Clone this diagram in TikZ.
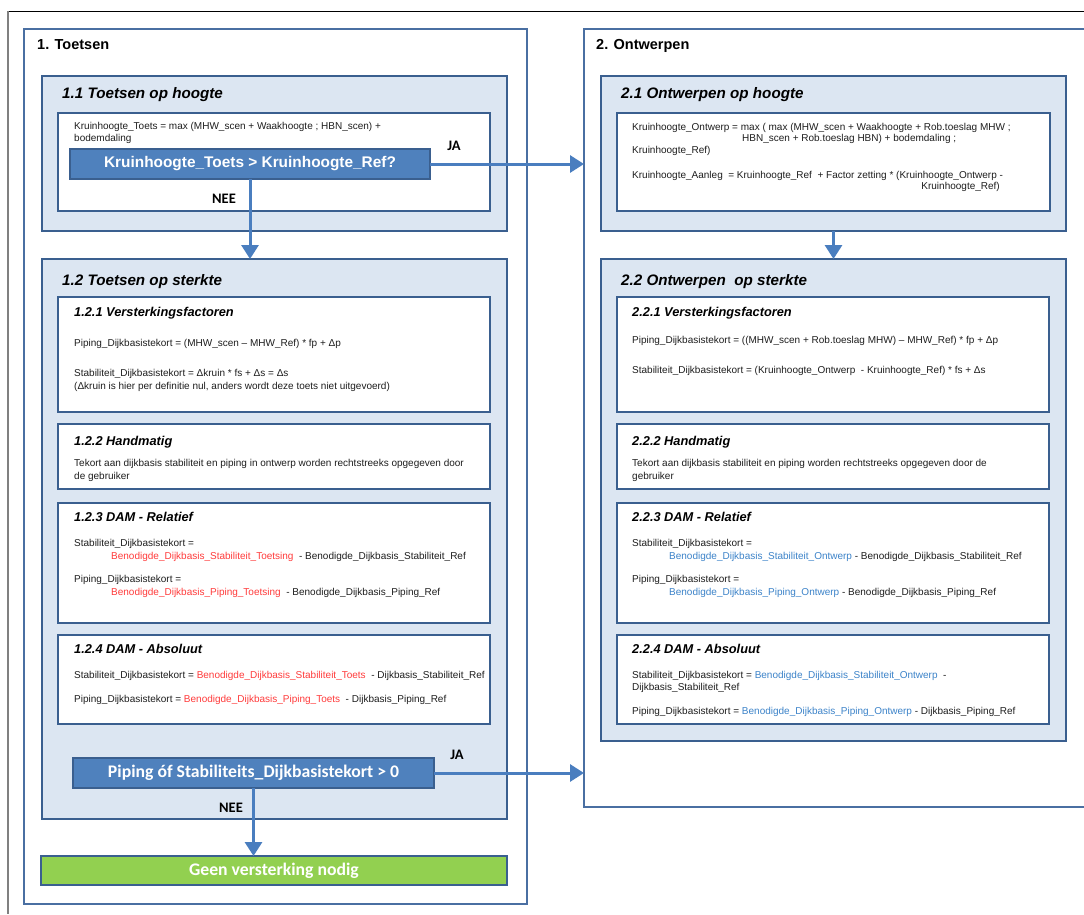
\documentclass[tikz,border=0pt]{standalone}
\usepackage{fontspec}
\setmainfont{Liberation Sans}
\newfontfamily\calfont{Carlito}
\usetikzlibrary{arrows.meta}
\definecolor{boxline}{HTML}{3A5F8F}
\definecolor{outerline}{HTML}{4A6FA2}
\definecolor{panel}{HTML}{DCE6F2}
\definecolor{decfill}{HTML}{4F81BD}
\definecolor{arrowc}{HTML}{4A7EBF}
\definecolor{grn}{HTML}{92D050}
\definecolor{redtxt}{HTML}{FF3B3B}
\definecolor{bluetxt}{HTML}{3C83C9}
\definecolor{txt}{HTML}{1E1E1E}
\tikzset{
  rbox/.style={draw, inner sep=0pt, outer sep=0pt, anchor=north west},
  outerbox/.style={rbox, draw=outerline, line width=1.5pt, fill=white},
  panelbox/.style={rbox, draw=boxline, line width=2pt, fill=panel},
  whitebox/.style={rbox, draw=boxline, line width=2pt, fill=white},
  decbox/.style={rbox, draw=boxline, line width=1.5pt, fill=decfill},
  greenbox/.style={rbox, draw=boxline, line width=1.5pt, fill=grn},
  t/.style={anchor=mid west, inner sep=0pt, font=\fontsize{10}{13}\selectfont, text=txt},
  tr/.style={t, anchor=mid east},
  hmain/.style={anchor=mid west, inner sep=0pt, font=\fontsize{14.5}{17}\selectfont\bfseries},
  hsec/.style={anchor=mid west, inner sep=0pt, font=\fontsize{15.2}{18}\selectfont\bfseries\itshape},
  hsub/.style={anchor=mid west, inner sep=0pt, font=\fontsize{12.8}{15}\selectfont\bfseries\itshape},
  dectext/.style={inner sep=0pt, text=white, font=\fontsize{15.4}{18}\selectfont\bfseries},
  dectextc/.style={inner sep=0pt, text=white, font=\fontsize{17.7}{20}\calfont\bfseries},
  yn/.style={inner sep=0pt, font=\fontsize{14.5}{17}\calfont\bfseries},
  flow/.style={draw=arrowc, line width=3pt, -{Triangle[length=14pt,width=17pt]}}
}
\newcommand{\rd}[1]{\textcolor{redtxt}{#1}}
\newcommand{\bl}[1]{\textcolor{bluetxt}{#1}}
\begin{document}
\begin{tikzpicture}[x=1pt,y=-1pt]
\useasboundingbox (0,0) rectangle (1084,914);
% outer page frame
\draw[black, line width=1pt] (8,11) -- (1084,11);
\draw[gray, line width=2pt] (8,11) -- (8,914);

% ---------- 1. Toetsen ----------
\node[outerbox, minimum width=503pt, minimum height=875pt] (b1) at (24,29) {};
\node[hmain] (h1) at (37,47) {1. Toetsen};

\node[panelbox, minimum width=465pt, minimum height=155pt] (b11) at (42,76) {};
\node[hsec] (h11) at (62,96) {1.1 Toetsen op hoogte};
\node[whitebox, minimum width=432pt, minimum height=98pt] (i11) at (58,113) {};
\node[t] (t11a) at (74,127) {Kruinhoogte\_Toets = max (MHW\_scen + Waakhoogte ; HBN\_scen) +};
\node[t] (t11b) at (74,139) {bodemdaling};
\node[decbox, minimum width=360pt, minimum height=30pt] (d1) at (70,149) {};
\node[dectext] (d1t) at (d1.center) {Kruinhoogte\_Toets > Kruinhoogte\_Ref?};
\node[yn] (ja1) at (454,146) {JA};
\node[yn] (nee1) at (224,199) {NEE};

\node[panelbox, minimum width=465pt, minimum height=560pt] (b12) at (42,259) {};
\node[hsec] (h12) at (62,283) {1.2 Toetsen op sterkte};

\node[whitebox, minimum width=432pt, minimum height=115pt] (i121) at (58,297) {};
\node[hsub] (h121) at (74,314) {1.2.1 Versterkingsfactoren};
\node[t] (t121a) at (74,344) {Piping\_Dijkbasistekort = (MHW\_scen – MHW\_Ref) * fp + Δp};
\node[t] (t121b) at (74,374) {Stabiliteit\_Dijkbasistekort = Δkruin * fs + Δs = Δs};
\node[t] (t121c) at (74,387) {(Δkruin is hier per definitie nul, anders wordt deze toets niet uitgevoerd)};

\node[whitebox, minimum width=432pt, minimum height=65pt] (i122) at (58,424) {};
\node[hsub] (h122) at (74,443) {1.2.2 Handmatig};
\node[t] (t122a) at (74,464) {Tekort aan dijkbasis stabiliteit en piping in ontwerp worden rechtstreeks opgegeven door};
\node[t] (t122b) at (74,477) {de gebruiker};

\node[whitebox, minimum width=432pt, minimum height=120pt] (i123) at (58,503) {};
\node[hsub] (h123) at (74,519) {1.2.3 DAM - Relatief};
\node[t] (t123a) at (74,544) {Stabiliteit\_Dijkbasistekort =};
\node[t] (t123b) at (111,557) {\rd{Benodigde\_Dijkbasis\_Stabiliteit\_Toetsing}~ - Benodigde\_Dijkbasis\_Stabiliteit\_Ref};
\node[t] (t123c) at (74,580) {Piping\_Dijkbasistekort =};
\node[t] (t123d) at (111,593) {\rd{Benodigde\_Dijkbasis\_Piping\_Toetsing}~ - Benodigde\_Dijkbasis\_Piping\_Ref};

\node[whitebox, minimum width=432pt, minimum height=89pt] (i124) at (58,635) {};
\node[hsub] (h124) at (74,651) {1.2.4 DAM - Absoluut};
\node[t] (t124a) at (74,676) {Stabiliteit\_Dijkbasistekort = \rd{Benodigde\_Dijkbasis\_Stabiliteit\_Toets}~ - Dijkbasis\_Stabiliteit\_Ref};
\node[t] (t124b) at (74,700) {Piping\_Dijkbasistekort = \rd{Benodigde\_Dijkbasis\_Piping\_Toets}~ - Dijkbasis\_Piping\_Ref};

\node[decbox, minimum width=361pt, minimum height=30pt] (d2) at (73,758) {};
\node[dectextc] (d2t) at (d2.center) {Piping óf Stabiliteits\_Dijkbasistekort > 0};
\node[yn] (ja2) at (457,755) {JA};
\node[yn] (nee2) at (231,808) {NEE};

\node[greenbox, minimum width=466pt, minimum height=29pt] (g) at (41,856) {};
\node[dectextc] (gt) at (g.center) {Geen versterking nodig};

% ---------- 2. Ontwerpen ----------
\node[outerbox, minimum width=520pt, minimum height=778pt] (b2) at (584,29) {};
\node[hmain] (h2) at (596,47) {2. Ontwerpen};

\node[panelbox, minimum width=465pt, minimum height=155pt] (b21) at (601,76) {};
\node[hsec] (h21) at (621,96) {2.1 Ontwerpen op hoogte};
\node[whitebox, minimum width=433pt, minimum height=98pt] (i21) at (617,113) {};
\node[t] (t21a) at (632,128) {Kruinhoogte\_Ontwerp = max ( max (MHW\_scen + Waakhoogte + Rob.toeslag MHW ;};
\node[t] (t21b) at (742,139) {HBN\_scen + Rob.toeslag HBN) + bodemdaling ;};
\node[t] (t21c) at (632,151) {Kruinhoogte\_Ref)};
\node[t] (t21d) at (632,176) {Kruinhoogte\_Aanleg~ = Kruinhoogte\_Ref~ + Factor zetting * (Kruinhoogte\_Ontwerp -};
\node[tr] (t21e) at (1000,187) {Kruinhoogte\_Ref)};

\node[panelbox, minimum width=465pt, minimum height=482pt] (b22) at (601,259) {};
\node[hsec] (h22) at (621,283) {2.2 Ontwerpen~ op sterkte};

\node[whitebox, minimum width=432pt, minimum height=115pt] (i221) at (617,297) {};
\node[hsub] (h221) at (632,314) {2.2.1 Versterkingsfactoren};
\node[t] (t221a) at (632,341) {Piping\_Dijkbasistekort = ((MHW\_scen + Rob.toeslag MHW) – MHW\_Ref) * fp + Δp};
\node[t] (t221b) at (632,371) {Stabiliteit\_Dijkbasistekort = (Kruinhoogte\_Ontwerp~ - Kruinhoogte\_Ref) * fs + Δs};

\node[whitebox, minimum width=432pt, minimum height=65pt] (i222) at (617,424) {};
\node[hsub] (h222) at (632,443) {2.2.2 Handmatig};
\node[t] (t222a) at (632,464) {Tekort aan dijkbasis stabiliteit en piping worden rechtstreeks opgegeven door de};
\node[t] (t222b) at (632,477) {gebruiker};

\node[whitebox, minimum width=432pt, minimum height=120pt] (i223) at (617,503) {};
\node[hsub] (h223) at (632,519) {2.2.3 DAM - Relatief};
\node[t] (t223a) at (632,544) {Stabiliteit\_Dijkbasistekort =};
\node[t] (t223b) at (669,557) {\bl{Benodigde\_Dijkbasis\_Stabiliteit\_Ontwerp} - Benodigde\_Dijkbasis\_Stabiliteit\_Ref};
\node[t] (t223c) at (632,580) {Piping\_Dijkbasistekort =};
\node[t] (t223d) at (669,593) {\bl{Benodigde\_Dijkbasis\_Piping\_Ontwerp} - Benodigde\_Dijkbasis\_Piping\_Ref};

\node[whitebox, minimum width=432pt, minimum height=89pt] (i224) at (617,635) {};
\node[hsub] (h224) at (632,651) {2.2.4 DAM - Absoluut};
\node[t] (t224a) at (632,676) {Stabiliteit\_Dijkbasistekort = \bl{Benodigde\_Dijkbasis\_Stabiliteit\_Ontwerp}~ -};
\node[t] (t224b) at (632,688) {Dijkbasis\_Stabiliteit\_Ref};
\node[t] (t224c) at (632,712) {Piping\_Dijkbasistekort = \bl{Benodigde\_Dijkbasis\_Piping\_Ontwerp} - Dijkbasis\_Piping\_Ref};

% ---------- connectors ----------
\draw[flow] (d1.south) -- (d1.south |- b12.north);
\draw[flow] (d1.east) -- (d1.east -| b2.west);
\draw[flow] (b21.south) -- (b21.south |- b22.north);
\draw[flow] (d2.east) -- (d2.east -| b2.west);
\draw[flow] (d2.south) -- (d2.south |- g.north);
\end{tikzpicture}
\end{document}
